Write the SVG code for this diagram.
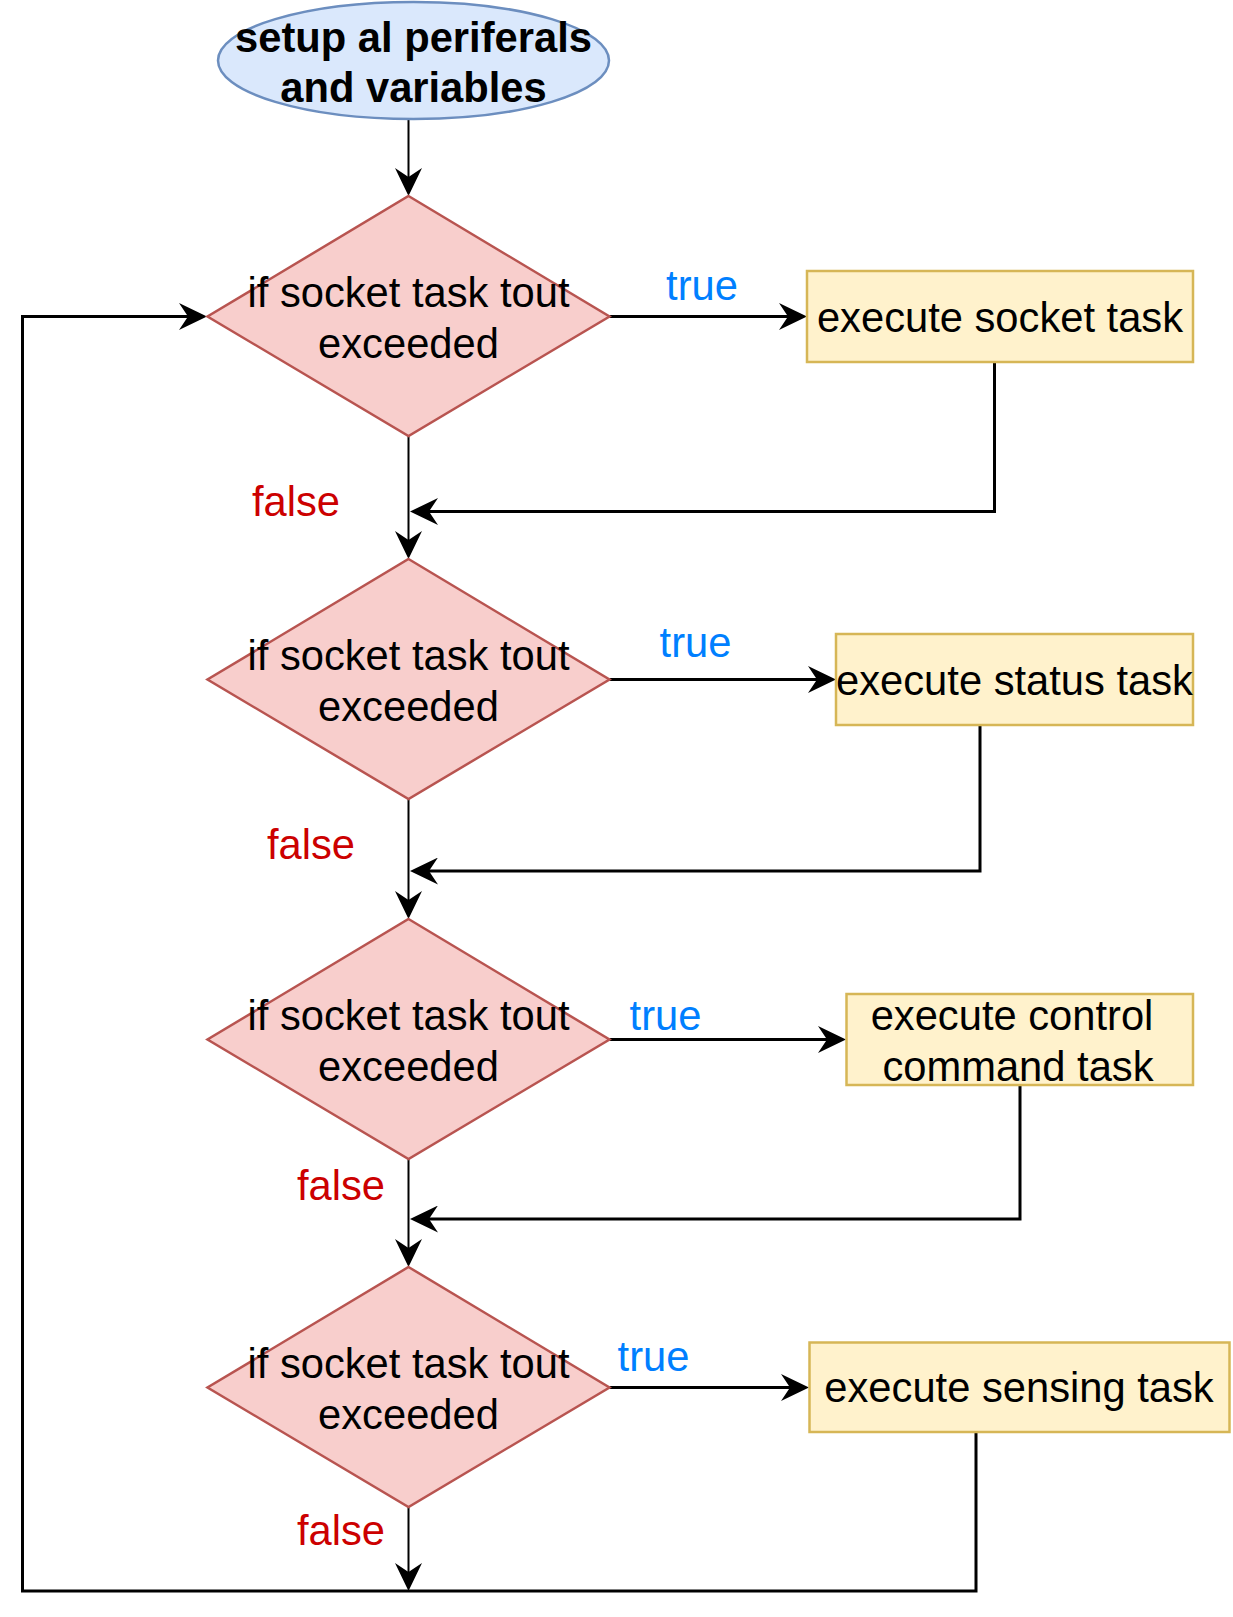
<svg xmlns="http://www.w3.org/2000/svg" width="1233" height="1617" viewBox="0 0 1233 1617">
<style>
.t{font-family:"Liberation Sans",Arial,sans-serif;font-size:41.7px;text-anchor:middle;fill:#000}
.b{font-weight:bold}
.tr{fill:#007FFF}
.fa{fill:#CC0000}
.dia{fill:#F8CECC;stroke:#B85450;stroke-width:2.5}
.box{fill:#FFF2CC;stroke:#D6B656;stroke-width:2.5}
.c{fill:none;stroke:#000;stroke-width:3;marker-end:url(#arr)}
.c2{fill:none;stroke:#000;stroke-width:2;marker-end:url(#arr)}
</style>
<defs>
<marker id="arr" markerUnits="userSpaceOnUse" markerWidth="28" markerHeight="27" viewBox="0 0 28 27" refX="18" refY="13.5" orient="auto">
<path d="M28,13.5 L0,0 L9,13.5 L0,27 Z" fill="#000"/>
</marker>
</defs>
<rect width="1233" height="1617" fill="#fff"/>
<g id="connectors">
<path class="c2" d="M408.5,120 L408.5,186"/>
<path class="c" d="M609.5,316.5 L797,316.5"/>
<path class="c2" d="M408.5,436 L408.5,549"/>
<path class="c" d="M994.5,362 L994.5,511.5 L420,511.5"/>
<path class="c" d="M609.5,679.5 L826,679.5"/>
<path class="c2" d="M408.5,799 L408.5,909"/>
<path class="c" d="M980,725 L980,871 L420,871"/>
<path class="c" d="M609.5,1039.5 L836,1039.5"/>
<path class="c2" d="M408.5,1159 L408.5,1257"/>
<path class="c" d="M1020,1085 L1020,1219 L420,1219"/>
<path class="c" d="M609.5,1387.5 L799,1387.5"/>
<path class="c2" d="M408.5,1507 L408.5,1581"/>
<path class="c" d="M976,1432 L976,1591 L22.5,1591 L22.5,316.5 L197,316.5"/>
</g>
<g id="labels">
<text class="t tr" x="702" y="300">true</text>
<text class="t fa" x="296" y="516">false</text>
<text class="t tr" x="695.5" y="657">true</text>
<text class="t fa" x="311" y="859">false</text>
<text class="t tr" x="665.5" y="1030">true</text>
<text class="t fa" x="341" y="1200">false</text>
<text class="t tr" x="653.5" y="1371">true</text>
<text class="t fa" x="341" y="1545">false</text>
</g>
<g id="start">
<ellipse cx="413.5" cy="60.5" rx="195.5" ry="58.5" fill="#DAE8FC" stroke="#6C8EBF" stroke-width="2.5"/>
<text class="t b" x="413.5" y="52">setup al periferals</text>
<text class="t b" x="413.5" y="102">and variables</text>
</g>
<g id="decision1">
<polygon class="dia" points="408.5,196 609.5,316.5 408.5,436 207.5,316.5"/>
<text class="t" x="408.5" y="307">if socket task tout</text>
<text class="t" x="408.5" y="357.5">exceeded</text>
</g>
<g id="task1">
<rect class="box" x="807" y="271" width="386" height="91"/>
<text class="t" x="1000" y="331.5">execute socket task</text>
</g>
<g id="decision2">
<polygon class="dia" points="408.5,559 609.5,679.5 408.5,799 207.5,679.5"/>
<text class="t" x="408.5" y="670">if socket task tout</text>
<text class="t" x="408.5" y="720.5">exceeded</text>
</g>
<g id="task2">
<rect class="box" x="836" y="634" width="357" height="91"/>
<text class="t" x="1014.5" y="694.5">execute status task</text>
</g>
<g id="decision3">
<polygon class="dia" points="408.5,919 609.5,1039.5 408.5,1159 207.5,1039.5"/>
<text class="t" x="408.5" y="1030">if socket task tout</text>
<text class="t" x="408.5" y="1080.5">exceeded</text>
</g>
<g id="task3">
<rect class="box" x="846.5" y="994" width="346.5" height="91"/>
<text class="t" x="1012" y="1030">execute control</text>
<text class="t" x="1018" y="1081">command task</text>
</g>
<g id="decision4">
<polygon class="dia" points="408.5,1267 609.5,1387.5 408.5,1507 207.5,1387.5"/>
<text class="t" x="408.5" y="1378">if socket task tout</text>
<text class="t" x="408.5" y="1428.5">exceeded</text>
</g>
<g id="task4">
<rect class="box" x="809.5" y="1342.5" width="420" height="89.5"/>
<text class="t" x="1019" y="1402">execute sensing task</text>
</g>
</svg>
